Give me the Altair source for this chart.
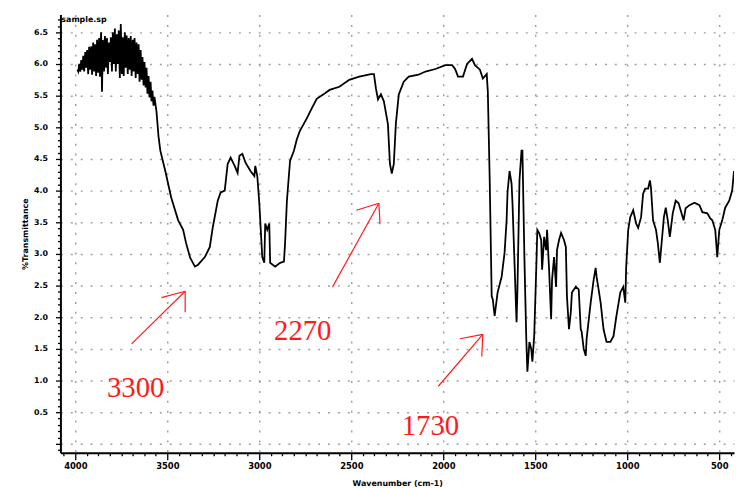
import altair as alt
import pandas as pd

# IR spectrum trace (wavenumber in cm-1, %Transmittance)
# noisy O-H / water-vapour region at the high-wavenumber end
noisy_wn = [
    3989, 3984, 3979, 3973, 3968, 3962, 3957, 3952, 3946, 3941,
    3936, 3930, 3925, 3919, 3914, 3909, 3903, 3898, 3893, 3887,
    3882, 3876, 3871, 3866, 3860, 3855, 3850, 3844, 3839, 3833,
    3828, 3823, 3817, 3812, 3807, 3801, 3796, 3790, 3785, 3780,
    3774, 3769, 3764, 3758, 3753, 3747, 3742, 3737, 3731, 3726,
    3721, 3715, 3710, 3704, 3699, 3694, 3688, 3683, 3678, 3672,
    3667, 3661, 3656, 3651, 3645, 3640, 3635, 3629, 3624, 3618,
    3613, 3608, 3602, 3597, 3591, 3586, 3581, 3575, 3570,
]
noisy_t = [
    5.91, 5.88, 6.00, 5.88, 6.06, 5.91, 6.13, 5.88, 6.19, 5.94,
    6.22, 5.84, 6.27, 5.91, 6.28, 5.83, 6.34, 5.88, 6.31, 5.81,
    6.38, 5.86, 6.41, 5.80, 6.50, 5.56, 6.38, 5.88, 6.44, 5.94,
    6.41, 5.84, 6.34, 6.03, 6.42, 5.88, 6.50, 6.00, 6.56, 5.88,
    6.47, 6.00, 6.53, 5.78, 6.63, 5.84, 6.42, 5.81, 6.50, 5.94,
    6.45, 5.84, 6.41, 5.91, 6.44, 5.81, 6.38, 5.88, 6.41, 5.78,
    6.34, 5.84, 6.31, 5.72, 6.22, 5.75, 6.11, 5.66, 6.03, 5.63,
    5.94, 5.53, 5.81, 5.47, 5.72, 5.41, 5.58, 5.34, 5.48,
]
# remainder of the spectrum
main_wn = [
    3559, 3548, 3538, 3511, 3479, 3441, 3414, 3398, 3376, 3350,
    3333, 3296, 3269, 3253, 3226, 3210, 3188, 3172, 3156, 3134,
    3118, 3108, 3092, 3075, 3048, 3027, 3022, 3011, 3000, 2984,
    2973, 2968, 2957, 2946, 2941, 2914, 2887, 2866, 2860, 2850,
    2833, 2812, 2796, 2780, 2742, 2715, 2688, 2651, 2618, 2565,
    2511, 2457, 2393, 2377, 2366, 2355, 2339, 2323, 2301, 2290,
    2280, 2269, 2258, 2242, 2215, 2188, 2135, 2097, 2043, 1989,
    1952, 1936, 1920, 1893, 1871, 1844, 1828, 1801, 1785, 1764,
    1758, 1748, 1737, 1731, 1721,
    1705, 1683, 1667, 1656, 1651, 1640, 1629, 1624, 1613, 1602,
    1597, 1586, 1575, 1570, 1559, 1549, 1543, 1532, 1522, 1516,
    1506, 1495, 1489, 1479, 1468, 1463, 1452, 1441, 1436, 1425,
    1414, 1409, 1398, 1387, 1382, 1371, 1360, 1344, 1334, 1328,
    1317, 1307, 1301, 1280, 1264, 1253, 1248, 1237, 1226, 1221,
    1199, 1183, 1172, 1167, 1156, 1145, 1129, 1113, 1092, 1075,
    1059, 1038, 1022, 1011, 1006, 995, 984, 968, 952, 941,
    925, 914, 903, 887, 877, 871, 860, 844, 834, 823,
    812, 801, 791, 780, 769, 764, 753, 737, 721, 710,
    694, 683, 662, 635, 608, 592, 565, 549, 538, 522,
    511, 500, 484, 468, 446, 430, 420,
]
main_t = [
    5.25, 4.86, 4.63, 4.31, 3.89, 3.53, 3.38, 3.17, 2.94, 2.80,
    2.83, 2.95, 3.11, 3.42, 3.84, 3.97, 4.00, 4.42, 4.52, 4.39,
    4.28, 4.55, 4.58, 4.44, 4.31, 4.23, 4.39, 4.23, 3.80, 2.95,
    2.86, 3.48, 3.38, 3.48, 2.86, 2.80, 2.86, 2.88, 3.17, 3.84,
    4.47, 4.63, 4.81, 4.94, 5.14, 5.30, 5.45, 5.52, 5.59, 5.64,
    5.75, 5.80, 5.84, 5.84, 5.61, 5.44, 5.52, 5.41, 5.05, 4.42,
    4.27, 4.42, 5.05, 5.52, 5.72, 5.80, 5.83, 5.88, 5.92, 5.98,
    5.98, 5.92, 5.80, 5.80, 6.00, 6.08, 5.98, 5.91, 5.77, 5.84,
    5.56, 4.20, 2.33, 2.28, 2.02,
    2.39, 2.64, 3.02, 3.53, 3.97, 4.31, 4.11, 3.80, 2.86, 1.92,
    2.44, 4.16, 4.63, 4.63, 2.91, 1.66, 1.14, 1.61, 1.50, 1.30,
    1.70, 2.75, 3.38, 3.33, 3.22, 2.75, 3.27, 3.06, 3.38, 2.75,
    1.97, 2.59, 2.95, 2.48, 3.06, 3.22, 3.33, 3.22, 3.11, 2.33,
    1.81, 2.08, 2.39, 2.48, 2.44, 1.81, 1.77, 1.50, 1.39, 1.66,
    2.23, 2.59, 2.78, 2.64, 2.44, 2.23, 1.81, 1.61, 1.61, 1.70,
    2.02, 2.39, 2.48, 2.23, 2.80, 3.38, 3.58, 3.69, 3.48, 3.41,
    3.58, 3.95, 4.03, 4.03, 4.16, 4.03, 3.53, 3.38, 3.17, 2.86,
    3.22, 3.58, 3.73, 3.53, 3.27, 3.38, 3.64, 3.84, 3.80, 3.69,
    3.53, 3.72, 3.77, 3.81, 3.77, 3.66, 3.64, 3.56, 3.53, 3.38,
    2.95, 3.38, 3.53, 3.73, 3.84, 4.00, 4.31,
]

# Red peak annotations
label_text = ["3300", "2270", "1730"]
label_wn = [3672, 2764, 2070]
label_t = [0.875, 1.78, 0.28]

# Arrow segments (shaft + two barbs for each arrow)
arrow_wn_from = [3694, 3532, 3403, 2602, 2473, 2344, 2027, 1909, 1791]
arrow_t_from = [1.58, 2.31, 2.08, 2.48, 3.69, 3.47, 0.91, 1.66, 1.38]
arrow_wn_to = [3403, 3403, 3403, 2350, 2350, 2350, 1785, 1785, 1785]
arrow_t_to = [2.41, 2.41, 2.41, 3.80, 3.80, 3.80, 1.73, 1.73, 1.73]

# Spectrum file tag at the top left
tag_text = ["sample.sp"]
tag_wn = [4076]
tag_t = [6.70]

# Axis ticks (major every 500 cm-1 / 0.5 %T, minor in between)
x_ticks = [4062.5 - 62.5 * k for k in range(59)]
y_ticks = [round(-0.1 + 0.1 * k, 1) for k in range(69)]

x_scale = alt.Scale(domain=[4081, 420], nice=False, zero=False)
y_scale = alt.Scale(domain=[-0.14, 6.78], nice=False, zero=False)

x_major = "datum.value % 500 === 0"
y_major = "abs(round(datum.value * 10)) % 5 === 0"

GRID = "#a0a0a0"

x_axis = alt.Axis(
    values=x_ticks,
    format="d",
    labelExpr=f"{x_major} ? datum.label : ''",
    tickSize={"condition": {"test": x_major, "value": 7}, "value": 3},
    grid=True,
    gridColor={"condition": {"test": x_major, "value": GRID}, "value": "transparent"},
    gridDash=[2, 8],
    gridWidth=1.5,
    domainColor="black",
    domainWidth=2,
    tickColor="black",
    tickWidth=1.3,
    labelFont="DejaVu Sans",
    labelFontSize=8.5,
    labelFontWeight="bold",
    labelColor="black",
    labelPadding=2,
    labelFlush=False,
    labelOverlap=False,
    title="Wavenumber (cm-1)",
    titleFont="DejaVu Sans",
    titleFontSize=8,
    titleFontWeight="bold",
    titleColor="black",
    titlePadding=10,
)

y_axis = alt.Axis(
    values=y_ticks,
    format=".1f",
    labelExpr=f"({y_major}) && datum.value > 0.01 ? datum.label : ''",
    tickSize={"condition": {"test": y_major, "value": 5}, "value": 3},
    grid=True,
    gridColor={"condition": {"test": y_major, "value": GRID}, "value": "transparent"},
    gridDash=[2, 8],
    gridWidth=1.5,
    domainColor="black",
    domainWidth=2,
    tickColor="black",
    tickWidth=1.3,
    labelFont="DejaVu Sans",
    labelFontSize=8,
    labelFontWeight="bold",
    labelColor="black",
    labelPadding=8,
    labelFlush=False,
    labelOverlap=False,
    title="%Transmittance",
    titleFont="DejaVu Sans",
    titleFontSize=8,
    titleFontWeight="bold",
    titleColor="black",
    titlePadding=4,
)

spec_df = pd.DataFrame({"wn": noisy_wn + main_wn, "t": noisy_t + main_t})
spec_df["i"] = range(len(spec_df))

line = alt.Chart(spec_df).mark_line(color="black", strokeWidth=1.8, clip=True).encode(
    x=alt.X("wn:Q", scale=x_scale, axis=x_axis),
    y=alt.Y("t:Q", scale=y_scale, axis=y_axis),
    order="i:Q",
)

arrow_df = pd.DataFrame({
    "wn": arrow_wn_from, "t": arrow_t_from,
    "wn2": arrow_wn_to, "t2": arrow_t_to,
})
arrows = alt.Chart(arrow_df).mark_rule(color="#ff1a1a", strokeWidth=1.2).encode(
    x=alt.X("wn:Q", scale=x_scale, axis=x_axis),
    y=alt.Y("t:Q", scale=y_scale, axis=y_axis),
    x2="wn2:Q",
    y2="t2:Q",
)

label_df = pd.DataFrame({"label": label_text, "wn": label_wn, "t": label_t})
labels = alt.Chart(label_df).mark_text(
    font="Liberation Serif", fontSize=29, color="#ff1a1a",
    align="center", baseline="middle",
).encode(
    x=alt.X("wn:Q", scale=x_scale, axis=x_axis),
    y=alt.Y("t:Q", scale=y_scale, axis=y_axis),
    text="label:N",
)

tag_df = pd.DataFrame({"label": tag_text, "wn": tag_wn, "t": tag_t})
tag = alt.Chart(tag_df).mark_text(
    font="DejaVu Sans", fontSize=8, fontWeight="bold", color="black",
    align="left", baseline="middle",
).encode(
    x=alt.X("wn:Q", scale=x_scale, axis=x_axis),
    y=alt.Y("t:Q", scale=y_scale, axis=y_axis),
    text="label:N",
)

chart = alt.layer(line, arrows, labels, tag).properties(
    width=681,
    height=443,
    padding={"left": 53, "top": 4, "right": 1, "bottom": 33},
    autosize=alt.AutoSizeParams(type="none"),
).configure_view(stroke=None)

chart.save("out.html", embed_options={"renderer": "svg", "actions": False})
